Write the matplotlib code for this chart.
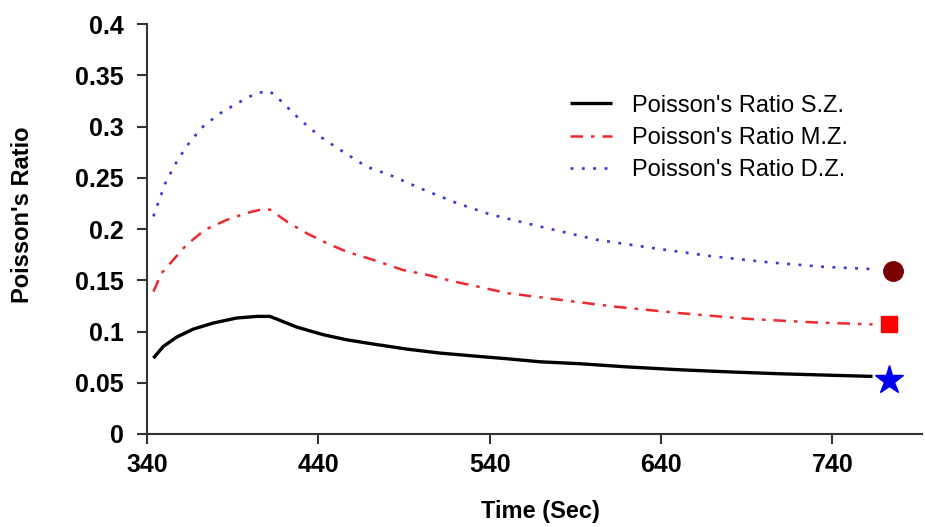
import matplotlib
matplotlib.use("Agg")
import matplotlib.pyplot as plt
from matplotlib.ticker import FuncFormatter

plt.rcParams["font.family"] = ["Liberation Sans", "DejaVu Sans"]

# Poisson's ratio against time for the three zones
time_sz = [343.7, 349.5, 357.3, 367.0, 378.6, 392.3, 404.0, 411.7, 417.6, 427.3,
           442.9, 456.4, 472.0, 491.5, 510.9, 530.3, 549.8, 569.2, 592.5, 620.0,
           650.8, 680.0, 709.1, 740.0, 763.5]
ratio_sz = [0.0741, 0.0855, 0.0946, 0.1024, 0.1083, 0.1132, 0.1148, 0.1148, 0.1109, 0.1044,
            0.0969, 0.0920, 0.0878, 0.0829, 0.0790, 0.0762, 0.0735, 0.0705, 0.0686, 0.0655,
            0.0627, 0.0606, 0.0588, 0.0573, 0.0562]

time_mz = [343.7, 348.5, 355.3, 363.1, 373.8, 386.5, 398.1, 407.8, 411.7, 421.5,
           433.1, 444.8, 456.4, 472.0, 489.5, 503.1, 518.7, 534.2, 549.8, 573.0,
           611.9, 650.8, 689.7, 728.5, 763.5]
ratio_mz = [0.139, 0.157, 0.170, 0.1848, 0.1994, 0.209, 0.2157, 0.2196, 0.219, 0.2075,
            0.196, 0.1864, 0.178, 0.170, 0.160, 0.1555, 0.149, 0.1435, 0.1376, 0.1327,
            0.1245, 0.118, 0.1125, 0.109, 0.107]

time_dz = [343.7, 350.5, 356.3, 363.1, 371.9, 381.6, 392.3, 404.0, 411.7, 417.6,
           429.2, 440.9, 452.6, 468.1, 483.7, 499.2, 520.6, 540.0, 569.2, 602.2,
           635.2, 670.2, 703.3, 736.3, 763.5]
ratio_dz = [0.2124, 0.2443, 0.263, 0.281, 0.299, 0.312, 0.3225, 0.333, 0.3345, 0.326,
            0.307, 0.2905, 0.2775, 0.261, 0.2515, 0.240, 0.2255, 0.2145, 0.2026, 0.1897,
            0.1815, 0.1734, 0.1675, 0.163, 0.161]

# end-point symbols (D.Z., M.Z., S.Z.)
end_time = [775.2, 772.9, 772.9]
end_ratio = [0.1587, 0.1076, 0.053]

fig = plt.figure(figsize=(9.25, 5.27), dpi=100)
ax = fig.add_axes([0.159, 0.1765, 0.838, 0.7775])

ax.plot(time_sz, ratio_sz, color="black", lw=2.4, solid_capstyle="butt",
        label="Poisson's Ratio S.Z.")
ax.plot(time_mz, ratio_mz, color="#f0282d", lw=1.8, dashes=(5, 3.2, 1.4, 3.2),
        label="Poisson's Ratio M.Z.")
ax.plot(time_dz, ratio_dz, color="#3a3ad0", lw=1.9, dashes=(1.1, 3.2),
        label="Poisson's Ratio D.Z.")

ax.plot(end_time[0], end_ratio[0], "o", color="#7a0000", ms=14, mec="#7a0000")
ax.plot(end_time[1], end_ratio[1], "s", color="red", ms=12, mec="red")
ax.plot(end_time[2], end_ratio[2], "*", color="#0000ee", ms=21, mec="#0000ee")

ax.set_xlim(340, 792.5)
ax.set_ylim(0, 0.4)
ax.set_xticks([340, 440, 540, 640, 740])
ax.set_yticks([0, 0.05, 0.1, 0.15, 0.2, 0.25, 0.3, 0.35, 0.4])
ax.yaxis.set_major_formatter(FuncFormatter(lambda v, _: f"{v:g}"))

for side in ("top", "right"):
    ax.spines[side].set_visible(False)
for side in ("left", "bottom"):
    ax.spines[side].set_linewidth(1.5)
    ax.spines[side].set_color("#333333")
ax.tick_params(axis="both", direction="out", length=7, width=1.5, color="#333333",
               labelsize=18)
ax.tick_params(axis="x", pad=7)
ax.tick_params(axis="y", pad=10)
for lbl in ax.get_xticklabels() + ax.get_yticklabels():
    lbl.set_fontweight("bold")

ax.set_xlabel("Time (Sec)", fontsize=17, fontweight="bold")
ax.set_ylabel("Poisson's Ratio", fontsize=17, fontweight="bold")
ax.xaxis.set_label_coords(0.508, -0.160)
ax.yaxis.set_label_coords(-0.146, 0.535)

ax.legend(loc="upper left", bbox_to_anchor=(0.518, 0.88), frameon=False, fontsize=17,
          handlelength=1.8, handletextpad=0.85, labelspacing=0.43,
          borderpad=0.4, borderaxespad=0.5)

fig.savefig("out.png", dpi=100)
